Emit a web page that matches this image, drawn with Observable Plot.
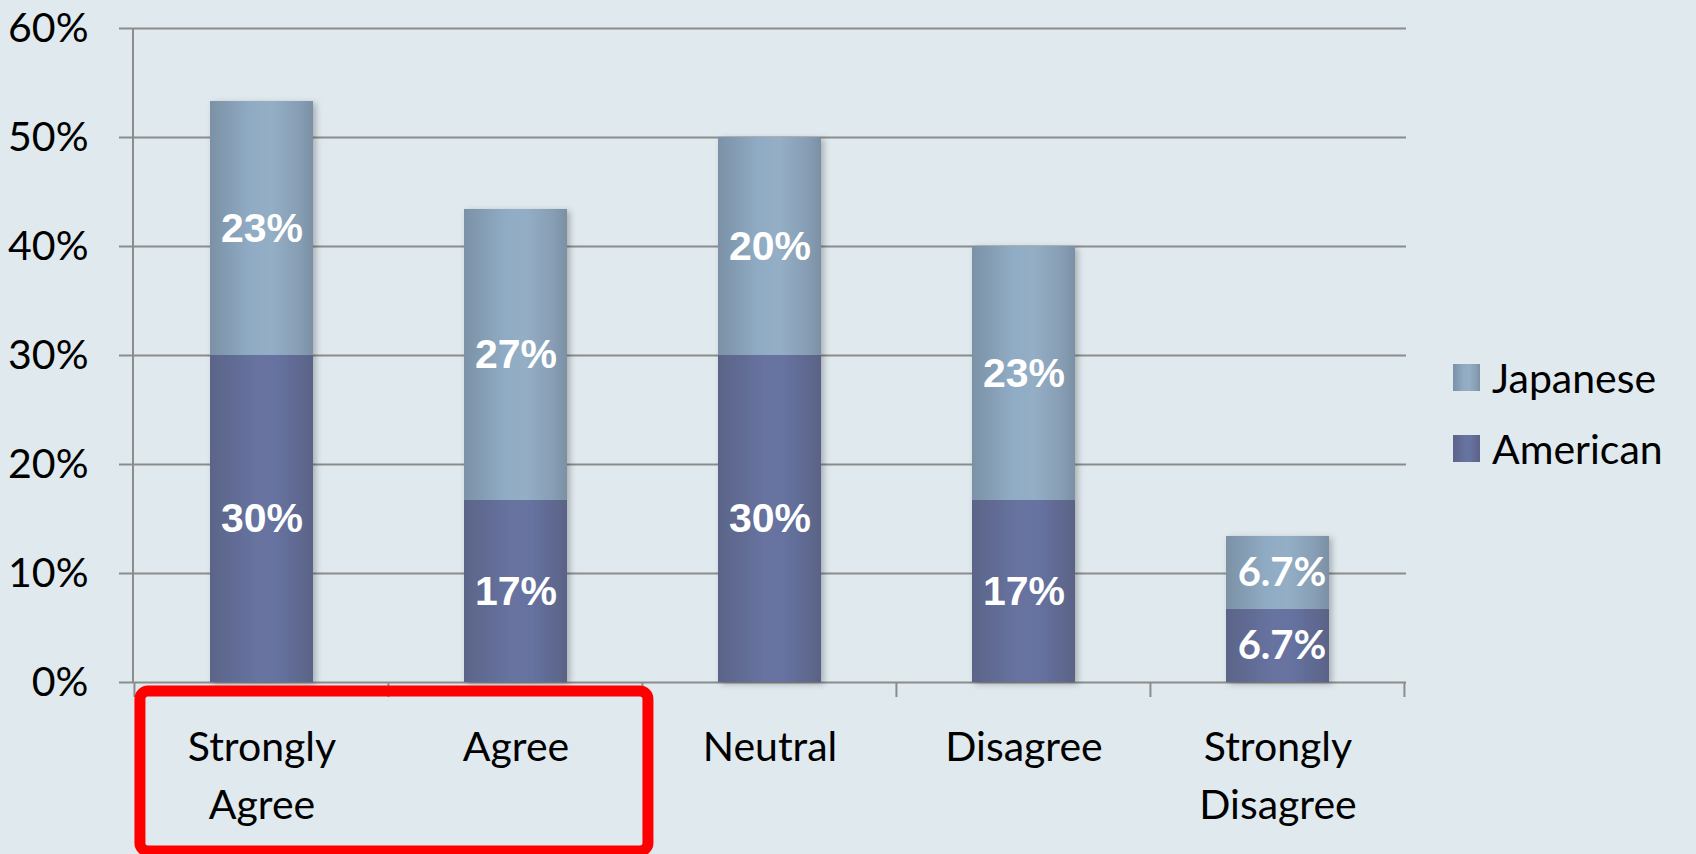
<!DOCTYPE html>
<html><head><meta charset="utf-8">
<script src="https://cdn.jsdelivr.net/npm/d3@7"></script>
<script src="https://cdn.jsdelivr.net/npm/@observablehq/plot@0.6"></script>
<style>
html,body{margin:0;padding:0;background:#dfe9ee;}
#wrap{position:relative;width:1696px;height:854px;overflow:hidden;background:#dfe9ee;}
#wrap svg{display:block;}
.leg{position:absolute;left:1453px;display:flex;align-items:flex-start;font-family:Lato,sans-serif;font-size:41px;line-height:27px;color:#000;white-space:nowrap;}
.leg .sw{width:27px;height:27px;margin-right:12px;flex:none;}
</style></head><body><div id="wrap"></div>
<script>
const categories = ["Strongly Agree", "Agree", "Neutral", "Disagree", "Strongly Disagree"];
const categoryLabels = ["Strongly\nAgree", "Agree", "Neutral", "Disagree", "Strongly\nDisagree"];
const seriesNames = ["American", "Japanese"];
const americanValues = [30, 16.7, 30, 16.7, 6.7];
const japaneseValues = [23.3, 26.7, 20, 23.3, 6.7];
const americanLabels = ["30%", "17%", "30%", "17%", "6.7%"];
const japaneseLabels = ["23%", "27%", "20%", "23%", "6.7%"];
const yTicks = [0, 10, 20, 30, 40, 50, 60];
const legendOrder = ["Japanese", "American"];

const gradStops = {
  American: [["0%", "#5b6488"], ["45%", "#6773a0"], ["65%", "#6672a0"], ["100%", "#5a6386"]],
  Japanese: [["0%", "#7b91a6"], ["40%", "#90acc4"], ["60%", "#93aec5"], ["85%", "#889fb5"], ["100%", "#7a90a5"]]
};
const gradId = {American: "gradAm", Japanese: "gradJp"};

const data = [];
categories.forEach((c, i) => {
  data.push({category: c, series: "American", value: americanValues[i], label: americanLabels[i]});
  data.push({category: c, series: "Japanese", value: japaneseValues[i], label: japaneseLabels[i]});
});
const labelOf = new Map(categories.map((c, i) => [c, categoryLabels[i]]));

const xPaddingInner = 0.595;
const W = 1696, H = 854;

function defs() {
  const d = d3.create("svg:defs");
  for (const s of seriesNames) {
    const g = d.append("linearGradient").attr("id", gradId[s]).attr("x1", 0).attr("x2", 1).attr("y1", 0).attr("y2", 0);
    for (const [o, c] of gradStops[s]) g.append("stop").attr("offset", o).attr("stop-color", c);
  }
  const f = d.append("filter").attr("id", "shadow").attr("x", "-20%").attr("y", "-20%").attr("width", "150%").attr("height", "150%");
  f.append("feDropShadow").attr("dx", 3).attr("dy", 2).attr("stdDeviation", 3).attr("flood-color", "#000").attr("flood-opacity", 0.25);
  return d.node();
}

function decorations(index, scales, values, dimensions) {
  const x = scales.x;
  const {marginLeft, marginTop, marginBottom, height} = dimensions;
  const step = x(categories[1]) - x(categories[0]);
  const bw = step * (1 - xPaddingInner);
  const half = step * xPaddingInner / 2;
  const yBase = height - marginBottom;
  const g = d3.create("svg:g");
  g.append("line").attr("x1", marginLeft).attr("x2", marginLeft).attr("y1", marginTop).attr("y2", yBase)
    .attr("stroke", "#8c8c8c").attr("stroke-width", 2);
  const bounds = categories.map(c => x(c) - half).concat([x(categories[categories.length - 1]) + bw + half]);
  for (const b of bounds) {
    g.append("line").attr("x1", b).attr("x2", b).attr("y1", yBase).attr("y2", yBase + 15)
      .attr("stroke", "#8c8c8c").attr("stroke-width", 2);
  }
  // highlight box around the first two category labels
  const left = bounds[0], right = bounds[2];
  g.append("rect").attr("x", left + 5.5).attr("y", yBase + 9).attr("width", right - left).attr("height", height - 3 - (yBase + 9))
    .attr("rx", 8).attr("fill", "none").attr("stroke", "#ff0000").attr("stroke-width", 11);
  return g.node();
}

const chart = Plot.plot({
  width: W,
  height: H,
  marginLeft: 133,
  marginRight: 290,
  marginTop: 28,
  marginBottom: 172,
  style: {background: "transparent", overflow: "visible"},
  x: {domain: categories, paddingInner: xPaddingInner, paddingOuter: xPaddingInner / 2, label: null},
  y: {domain: [0, 60], label: null},
  color: {domain: seriesNames, range: seriesNames.map(s => `url(#${gradId[s]})`)},
  marks: [
    defs,
    Plot.gridY(yTicks, {stroke: "#8c8c8c", strokeOpacity: 1, strokeWidth: 2}),
    Plot.axisY(yTicks, {tickFormat: d => d + "%", tickSize: 14, tickPadding: 31, fontSize: 41, fontFamily: "Lato", fill: "#000", stroke: "#8c8c8c", strokeWidth: 2, label: null}),
    Plot.axisX({tickSize: 0, tickPadding: 38, tickFormat: d => labelOf.get(d), fontSize: 41, fontFamily: "Lato", fill: "#000", lineHeight: 1.4, label: null}),
    Plot.barY(data, Plot.stackY({x: "category", y: "value", fill: "series"})),
    Plot.text(data.filter(d => !d.label.includes(".")), Plot.stackY({x: "category", y: "value", text: "label", fill: "white", fontSize: 41, fontWeight: "bold", fontFamily: "Liberation Sans"})),
    Plot.text(data.filter(d => d.label.includes(".")), Plot.stackY({x: "category", y: "value", text: "label", fill: "white", fontSize: 40, fontWeight: "bold", fontFamily: "Lato", dx: 4})),
    decorations
  ]
});

d3.select(chart).selectAll("g[aria-label='bar']").attr("filter", "url(#shadow)");

const wrap = document.getElementById("wrap");
wrap.appendChild(chart);

const legendTops = {Japanese: 364, American: 435};
for (const s of legendOrder) {
  const row = document.createElement("div");
  row.className = "leg";
  row.style.top = legendTops[s] + "px";
  const sw = document.createElement("div");
  sw.className = "sw";
  sw.style.background = `linear-gradient(to right, ${gradStops[s].map(([o, c]) => c + " " + o).join(", ")})`;
  const t = document.createElement("span");
  t.textContent = s;
  row.appendChild(sw);
  row.appendChild(t);
  wrap.appendChild(row);
}
</script>
</body></html>
